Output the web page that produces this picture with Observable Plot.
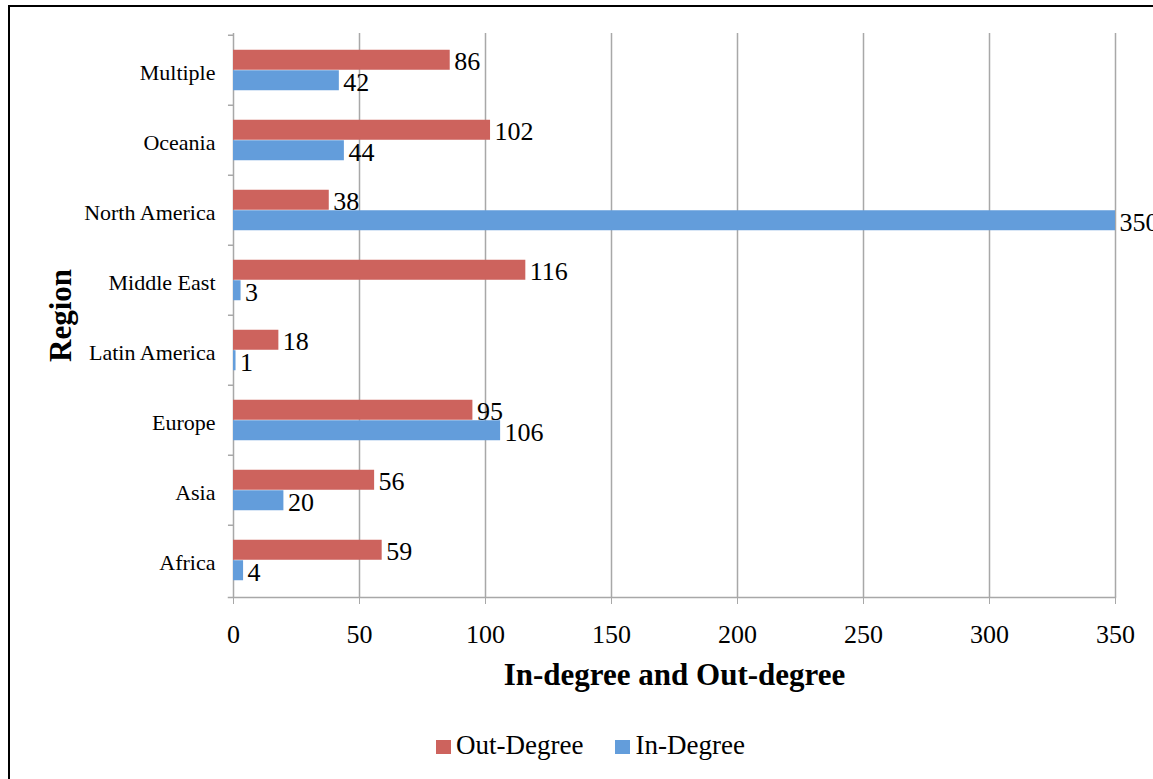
<!DOCTYPE html>
<html>
<head>
<meta charset="utf-8">
<script src="https://cdn.jsdelivr.net/npm/d3@7"></script>
<script src="https://cdn.jsdelivr.net/npm/@observablehq/plot@0.6"></script>
<style>
  html, body { margin: 0; padding: 0; background: #fff; overflow: hidden; }
  #wrap { position: relative; width: 1153px; height: 779px; overflow: hidden; font-family: "Liberation Serif", serif; }
  #frame { position: absolute; left: 8px; top: 5px; width: 1200px; height: 820px; border: 2.5px solid #000; box-shadow: 1px 1px 1px #888; pointer-events: none; }
  #chart { position: absolute; left: 0; top: 0; }
  #chart svg text { font-family: "Liberation Serif", serif !important; font-variant: normal !important; }
  #legend { position: absolute; left: 436px; top: 730px; height: 30px; line-height: 30px; font-size: 27px; color: #000; white-space: nowrap; font-family: "Liberation Serif", serif; }
  #legend .sw { display: inline-block; width: 15px; height: 14px; margin-right: 5px; vertical-align: 0px; }
  #legend .item { margin-right: 32px; }
</style>
</head>
<body>
<div id="wrap">
  <div id="chart"></div>
  <div id="legend"></div>
  <div id="frame"></div>
</div>
<script>
const regions = ["Multiple", "Oceania", "North America", "Middle East", "Latin America", "Europe", "Asia", "Africa"];
const outDegree = [86, 102, 38, 116, 18, 95, 56, 59];
const inDegree = [42, 44, 350, 3, 1, 106, 20, 4];
const seriesNames = ["Out-Degree", "In-Degree"];
const seriesColors = ["#cd635d", "#639ddb"];
const xTicks = [0, 50, 100, 150, 200, 250, 300, 350];
const xTitle = "In-degree and Out-degree";
const yTitle = "Region";

const outData = regions.map((r, i) => ({region: r, series: seriesNames[0], value: outDegree[i]}));
const inData = regions.map((r, i) => ({region: r, series: seriesNames[1], value: inDegree[i]}));

const W = 1153, H = 720, mL = 233, mR = 38, mT = 33, mB = 123;
const bw = (H - mT - mB) / regions.length;
const barH = 20.5;
const outer = (bw - 2 * barH) / 2;
const grid = "#a8a8a8";
const serif = "Liberation Serif";

const chart = Plot.plot({
  width: W, height: H,
  marginLeft: mL, marginRight: mR, marginTop: mT, marginBottom: mB,
  style: {fontFamily: serif, background: "#fff", color: "#000"},
  x: {domain: [0, 350]},
  y: {domain: regions, padding: 0},
  color: {domain: seriesNames, range: seriesColors},
  marks: [
    Plot.ruleX(xTicks, {x: d => d, stroke: grid, strokeWidth: 1.5}),
    Plot.frame({anchor: "bottom", stroke: grid, strokeWidth: 1.5, insetLeft: -5}),
    Plot.ruleY(regions, {y: d => d, x1: -2, x2: 0, dy: -bw / 2, stroke: grid, strokeWidth: 1.5}),
    Plot.axisX(xTicks, {tickSize: 7, tickPadding: 20, fontSize: 26, fontFamily: serif, stroke: grid, fill: "#000", label: null, tickFormat: d => String(d)}),
    Plot.axisY({tickSize: 0, tickPadding: 18, fontSize: 22, fontFamily: serif, fill: "#000", label: null, dy: 2}),
    Plot.barX(outData, {x: "value", y: "region", fill: "series", insetTop: outer, insetBottom: bw - outer - barH}),
    Plot.barX(inData, {x: "value", y: "region", fill: "series", insetTop: outer + barH, insetBottom: outer}),
    Plot.text(outData, {x: "value", y: "region", text: d => String(d.value), textAnchor: "start", dx: 4, dy: -bw / 2 + outer + barH / 2 + 1, fontSize: 26, fontFamily: serif, fill: "#000"}),
    Plot.text(inData, {x: "value", y: "region", text: d => String(d.value), textAnchor: "start", dx: 4, dy: -bw / 2 + outer + 1.5 * barH + 2, fontSize: 26, fontFamily: serif, fill: "#000"}),
    Plot.text([xTitle], {frameAnchor: "bottom", text: d => d, textAnchor: "middle", lineAnchor: "middle", dy: 78, fontSize: 31, fontWeight: "bold", fontFamily: serif, fill: "#000"}),
    Plot.text([yTitle], {frameAnchor: "left", text: d => d, textAnchor: "middle", dx: 61 - mL, rotate: -90, fontSize: 31, fontWeight: "bold", fontFamily: serif, fill: "#000"})
  ]
});
document.getElementById("chart").appendChild(chart);

const legend = document.getElementById("legend");
seriesNames.forEach((name, i) => {
  const item = document.createElement("span");
  item.className = "item";
  const sw = document.createElement("span");
  sw.className = "sw";
  sw.style.background = seriesColors[i];
  item.appendChild(sw);
  item.appendChild(document.createTextNode(name));
  legend.appendChild(item);
});
</script>
</body>
</html>
